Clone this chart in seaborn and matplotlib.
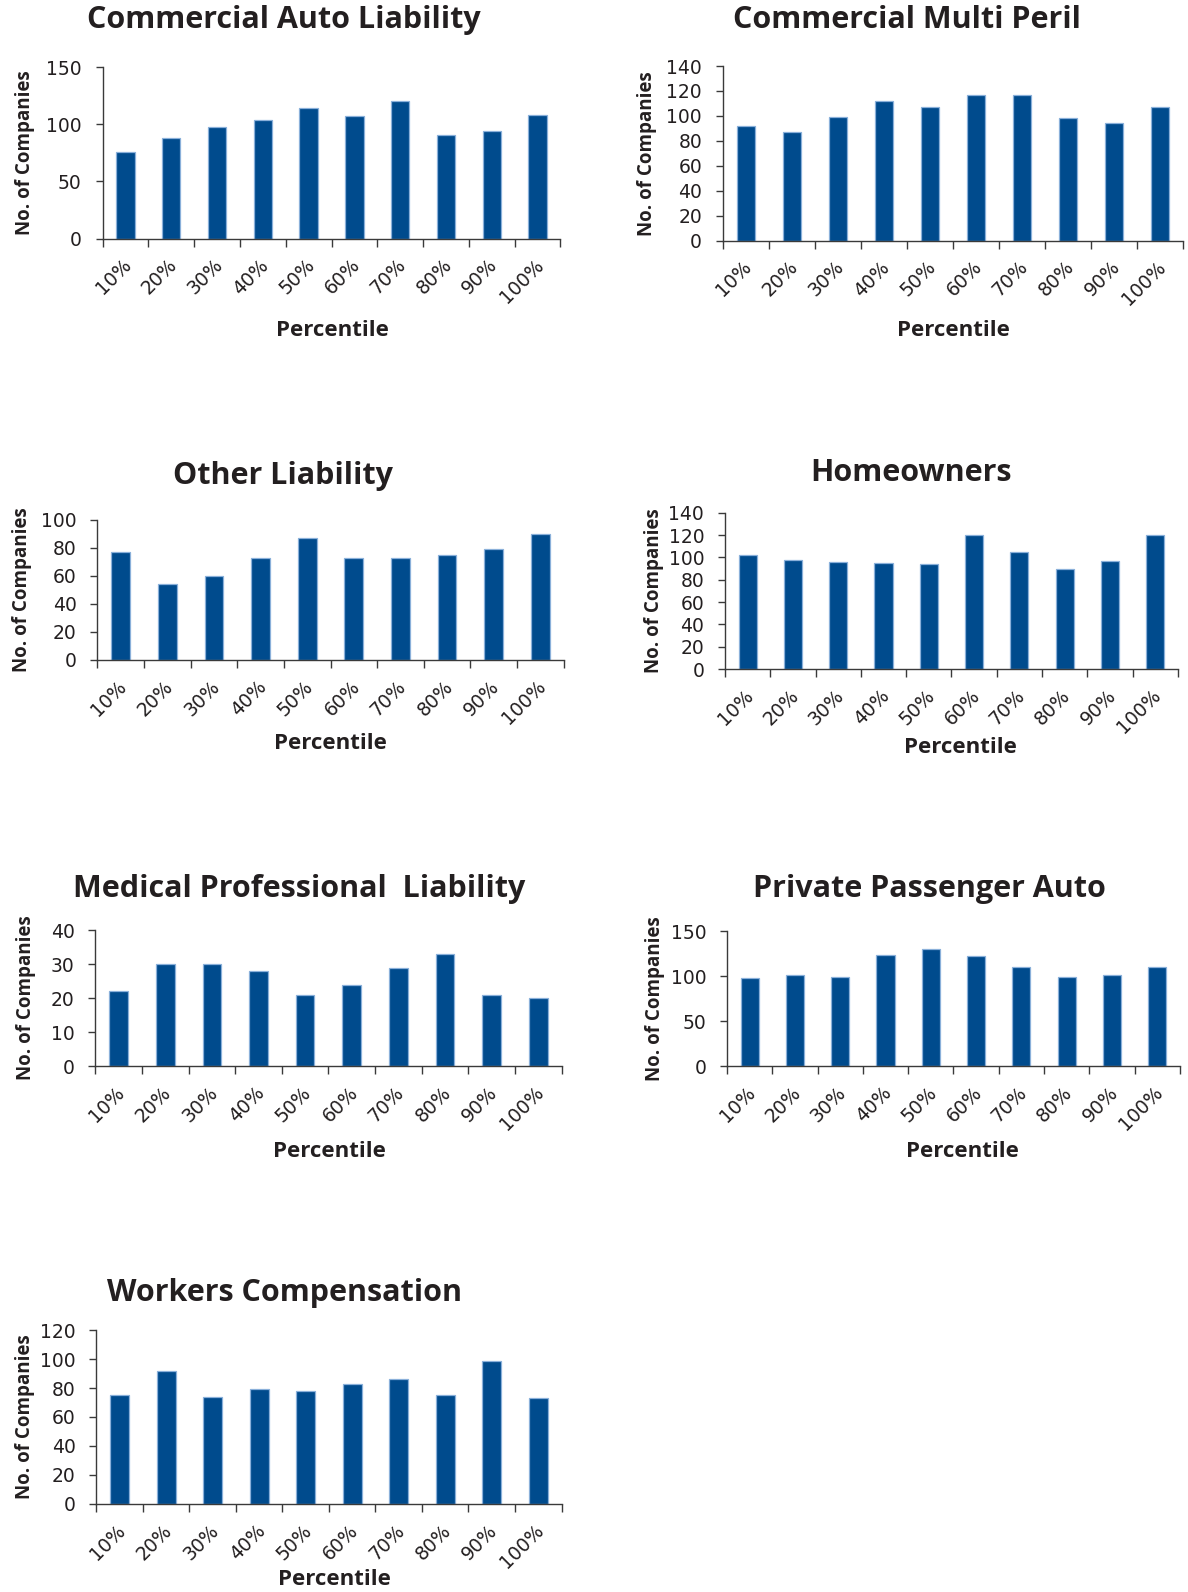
import matplotlib
matplotlib.use("Agg")
import matplotlib.pyplot as plt
import matplotlib.transforms as mtransforms
import seaborn as sns
import numpy as np

# ─── data ────────────────────────────────────────────────────────────────────
percentiles = ["10%", "20%", "30%", "40%", "50%", "60%", "70%", "80%", "90%", "100%"]

titles = [
    "Commercial Auto Liability",
    "Commercial Multi Peril",
    "Other Liability",
    "Homeowners",
    "Medical Professional  Liability",
    "Private Passenger Auto",
    "Workers Compensation",
]

commercial_auto = [76, 88, 98, 104, 114, 107, 120, 91, 94, 108]
commercial_multi = [92, 87, 99, 112, 107, 117, 117, 98, 94, 107]
other_liability = [77, 54, 60, 73, 87, 73, 73, 75, 79, 90]
homeowners = [102, 98, 96, 95, 94, 120, 105, 90, 97, 120]
medical_prof = [22, 30, 30, 28, 21, 24, 29, 33, 21, 20]
private_auto = [98, 101, 99, 124, 130, 122, 110, 99, 101, 110]
workers_comp = [75, 92, 74, 79, 78, 83, 86, 75, 99, 73]

series = [commercial_auto, commercial_multi, other_liability, homeowners,
          medical_prof, private_auto, workers_comp]
y_max = [150, 140, 100, 140, 40, 150, 120]
y_step = [50, 20, 20, 20, 10, 50, 20]

# ─── layout (pixels in the 1170-wide reference) ─────────────────────────────
# axes box: left, top, right, bottom
boxes = [
    (101, 66, 552, 235),
    (712, 65, 1165, 237),
    (96, 512, 555, 650),
    (714, 505, 1160, 659),
    (94, 916, 553, 1050),
    (716, 917, 1162, 1050),
    (95, 1310, 553, 1481),
]
title_pos = [(280, 20), (893, 20), (279, 469), (897, 466), (295, 876), (915, 876), (280, 1273)]
ylab_x = [25, 637, 22, 644, 26, 645, 25]
xlab_pos = [(327, 325), (939, 325), (325, 732), (946, 736), (324, 1134), (948, 1134), (329, 1556)]

BAR_C = "#004B8D"
EDGE_C = "#8AB0DA"
TEXT_C = "#231F20"
AXIS_C = "#3A3A3A"

W, H = 1188, 1592
S = W / 1170.0

sns.set_style("white")
plt.rcParams["font.family"] = ["DejaVu Sans"]

fig = plt.figure(figsize=(W / 100, H / 100), dpi=100)
fig.patch.set_facecolor("white")


def fx(x):
    return x * S / W


def fy(y):
    return 1 - y * S / H


shift = mtransforms.ScaledTranslation(3 / 100, 0, fig.dpi_scale_trans)

for i, vals in enumerate(series):
    l, t, r, b = boxes[i]
    ax = fig.add_axes([fx(l), fy(b), fx(r) - fx(l), fy(t) - fy(b)])
    sns.barplot(x=percentiles, y=vals, color=BAR_C, width=0.4, ax=ax,
                edgecolor=EDGE_C, linewidth=0.9, saturation=1)
    ax.set_xlim(-0.5, 9.5)
    ax.set_ylim(0, y_max[i])
    ax.set_yticks(np.arange(0, y_max[i] + 1, y_step[i]))
    ax.set_xlabel("")
    ax.set_ylabel("")
    for side in ["top", "right"]:
        ax.spines[side].set_visible(False)
    for side in ["left", "bottom"]:
        ax.spines[side].set_color(AXIS_C)
        ax.spines[side].set_linewidth(1.0)
    ax.tick_params(axis="y", direction="out", length=5, width=1, color=AXIS_C,
                   labelsize=13.5, labelcolor=TEXT_C, pad=10, left=True)
    # Excel-style ticks between categories
    ax.set_xticks(np.arange(-0.5, 10, 1), minor=True)
    ax.tick_params(axis="x", which="minor", direction="out", length=6, width=1,
                   color=AXIS_C, bottom=True)
    ax.tick_params(axis="x", which="major", length=0, labelsize=13.5,
                   labelcolor=TEXT_C, pad=17)
    for lab in ax.get_xticklabels():
        lab.set_rotation(45)
        lab.set_ha("right")
        lab.set_va("center")
        lab.set_rotation_mode("anchor")
        lab.set_transform(lab.get_transform() + shift)

    tx, ty = title_pos[i]
    fig.text(fx(tx), fy(ty), titles[i], ha="center", va="center",
             fontsize=22, fontweight="bold", color=TEXT_C, family="Open Sans")
    fig.text(fx(ylab_x[i]), (fy(t) + fy(b)) / 2, "No. of Companies", rotation=90,
             ha="center", va="center", fontsize=13.5, fontweight="bold",
             color=TEXT_C, family="Open Sans")
    px, py = xlab_pos[i]
    fig.text(fx(px), fy(py), "Percentile", ha="center", va="center",
             fontsize=16, fontweight="bold", color=TEXT_C, family="Open Sans")

fig.savefig("out.png", dpi=100, facecolor="white")
